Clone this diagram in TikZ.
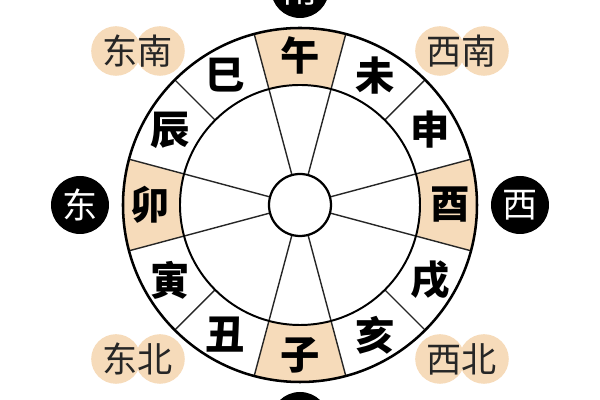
\documentclass[tikz,border=0pt]{standalone}
\usepackage{fontspec}
\usepackage{xcolor}
\newfontfamily\cjk{Noto Sans CJK SC}
\definecolor{peach}{RGB}{246,219,186}

\begin{document}
\begin{tikzpicture}
\useasboundingbox (-7.5,-4.875) rectangle (7.5,5.125);
\tikzset{
  zhi/.style={font=\cjk\bfseries\fontsize{28}{28}\selectfont, text=black},
  fang/.style={font=\cjk\fontsize{25}{25}\selectfont, text=black!85},
  dir/.style={circle, fill=black, minimum size=1.45cm, inner sep=0pt, text=white, font=\cjk\fontsize{25}{25}\selectfont},
  spoke/.style={line width=1pt, black!85}
}

% cardinal sectors
\fill[peach] (75:3) arc (75:105:3) -- (105:4.425) arc (105:75:4.425) -- cycle;
\fill[peach] (255:3) arc (255:285:3) -- (285:4.425) arc (285:255:4.425) -- cycle;
\fill[peach] (165:3) arc (165:195:3) -- (195:4.425) arc (195:165:4.425) -- cycle;
\fill[peach] (-15:3) arc (-15:15:3) -- (15:4.425) arc (15:-15:4.425) -- cycle;

% spokes
\draw[spoke] (15:0.775) -- (15:4.425);
\draw[spoke] (75:0.775) -- (75:4.425);
\draw[spoke] (105:0.775) -- (105:4.425);
\draw[spoke] (165:0.775) -- (165:4.425);
\draw[spoke] (195:0.775) -- (195:4.425);
\draw[spoke] (255:0.775) -- (255:4.425);
\draw[spoke] (285:0.775) -- (285:4.425);
\draw[spoke] (345:0.775) -- (345:4.425);
\draw[spoke] (45:3) -- (45:4.425);
\draw[spoke] (135:3) -- (135:4.425);
\draw[spoke] (225:3) -- (225:4.425);
\draw[spoke] (315:3) -- (315:4.425);

% rings
\draw[line width=1.8pt] (0,0) circle (4.425);
\draw[line width=1.4pt] (0,0) circle (3);
\draw[line width=1.6pt, fill=white] (0,0) circle (0.775);

% branches
\node[zhi] (wu) at (90:3.75) {午};
\node[zhi] (wei) at (60:3.75) {未};
\node[zhi] (shen) at (30:3.75) {申};
\node[zhi] (you) at (0:3.75) {酉};
\node[zhi] (xu) at (-30:3.75) {戌};
\node[zhi] (hai) at (-60:3.75) {亥};
\node[zhi] (zi) at (-90:3.75) {子};
\node[zhi] (chou) at (-120:3.75) {丑};
\node[zhi] (yin) at (-150:3.75) {寅};
\node[zhi] (mao) at (180:3.75) {卯};
\node[zhi] (chen) at (150:3.75) {辰};
\node[zhi] (si) at (120:3.75) {巳};

% directions
\node[dir] (nan) at (0,5.4) {南};
\node[dir] (bei) at (0,-5.4) {北};
\node[dir] (dong) at (-5.5,0) {东};
\node[dir] (xi) at (5.5,0) {西};

% corners
\fill[peach] (-4.6,3.85) circle (0.62);
\fill[peach] (-3.5,3.85) circle (0.62);
\fill[peach] (3.5,3.85) circle (0.62);
\fill[peach] (4.6,3.85) circle (0.62);
\fill[peach] (-4.6,-3.85) circle (0.62);
\fill[peach] (-3.5,-3.85) circle (0.62);
\fill[peach] (3.5,-3.85) circle (0.62);
\fill[peach] (4.6,-3.85) circle (0.62);
\node[fang] (dongnan) at (-4.05,3.85) {东南};
\node[fang] (xinan) at (4.05,3.85) {西南};
\node[fang] (dongbei) at (-4.05,-3.85) {东北};
\node[fang] (xibei) at (4.05,-3.85) {西北};

\end{tikzpicture}
\end{document}
